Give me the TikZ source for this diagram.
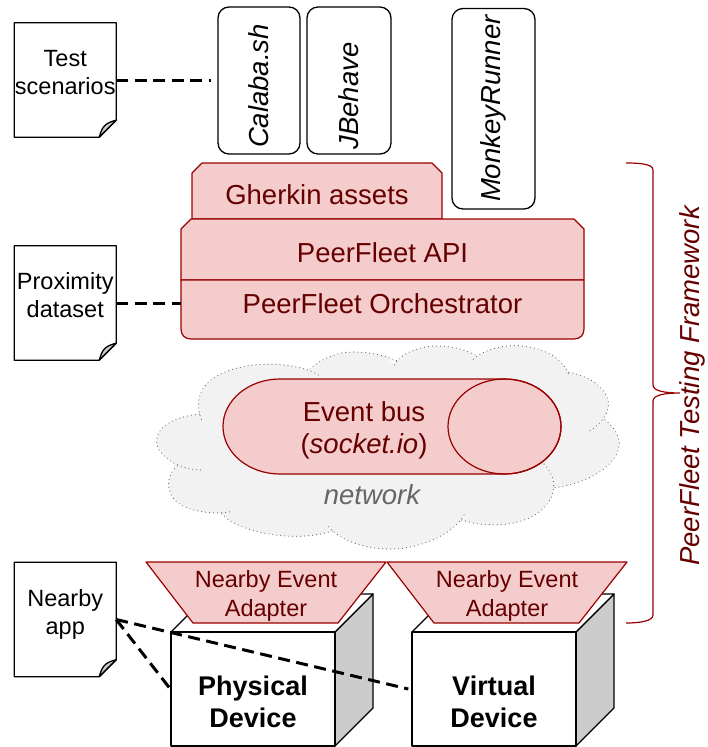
\documentclass[tikz,border=0pt]{standalone}
\usepackage{fontspec}
\setmainfont{Liberation Sans}
\definecolor{redfill}{HTML}{F4CCCC}
\definecolor{redline}{HTML}{990000}
\definecolor{redtext}{HTML}{660000}
\definecolor{cloudfill}{HTML}{F2F2F2}
\definecolor{cloudline}{HTML}{666666}
\definecolor{sidegray}{HTML}{CCCCCC}
\newcommand{\docshape}[1]{%
  \draw[boxline,fill=white] (#1.north west) -- (#1.north east) -- ([yshift=17pt]#1.south east)
     -- ([xshift=-17pt]#1.south east) -- (#1.south west) -- cycle;
  \draw[boxline,fill=sidegray] ([yshift=17pt]#1.south east) .. controls ([xshift=-12pt,yshift=14pt]#1.south east) and ([xshift=-14pt,yshift=10pt]#1.south east) .. ([xshift=-17pt]#1.south east) -- cycle;
}
\newcommand{\cloudlobes}{
  (535,105) .. controls (470,65) and (310,55) .. (220,115) .. controls (175,145) and (165,195) .. (185,240)
  (178,222) .. controls (110,230) and (50,255) .. (50,305) .. controls (52,350) and (120,392) .. (192,390)
  (112,378) .. controls (85,400) and (75,440) .. (100,475) .. controls (130,515) and (220,525) .. (272,515)
  (245,522) .. controls (300,580) and (470,610) .. (580,572)
  (565,560) .. controls (610,610) and (700,635) .. (790,625) .. controls (880,610) and (950,570) .. (975,520)
  (965,540) .. controls (1040,565) and (1150,560) .. (1205,510) .. controls (1240,480) and (1265,420) .. (1205,365)
  (1245,443) .. controls (1340,430) and (1435,380) .. (1438,310) .. controls (1438,280) and (1410,250) .. (1390,235)
  (1350,272) .. controls (1400,240) and (1415,200) .. (1400,170) .. controls (1380,125) and (1330,105) .. (1280,95)
  (1285,100) .. controls (1260,40) and (1180,15) .. (1120,17) .. controls (1070,18) and (1020,35) .. (992,65)
  (1005,45) .. controls (960,20) and (890,10) .. (840,25) .. controls (800,35) and (770,55) .. (760,82)
  (770,62) .. controls (720,40) and (650,30) .. (600,40) .. controls (560,50) and (525,70) .. (505,92)
}
\tikzset{
  boxline/.style={draw=black,line width=1.3pt,line join=round},
  redshape/.style={draw=redline,fill=redfill,line width=1.2pt,line join=round},
  bigfont/.style={font=\fontsize{27.5}{31.5}\selectfont},
  smallfont/.style={font=\fontsize{23.5}{28.5}\selectfont},
  docbox/.style={minimum width=101.5pt,minimum height=114pt,inner sep=0pt},
  doctext/.style={smallfont,align=center,inner sep=0pt,text=black},
  toolbox/.style={boxline,fill=white,rounded corners=11pt,rotate=90,inner sep=0pt,
    font=\fontsize{27.5}{31.5}\selectfont\itshape},
  redtextnode/.style={bigfont,text=redtext,align=center,inner sep=0pt},
  adaptertext/.style={smallfont,text=redtext,align=center,inner sep=0pt},
  cubefront/.style={boxline,fill=white,minimum width=164pt,minimum height=114pt,inner sep=0pt},
  cubetext/.style={font=\fontsize{27}{32}\selectfont\bfseries,align=center,inner sep=0pt},
  dashline/.style={draw=black,line width=3pt,dash pattern=on 12pt off 6.5pt},
}
\begin{document}
\begin{tikzpicture}[x=1pt,y=-1pt]
\useasboundingbox (0,0) rectangle (707,747);

% documents
\node[docbox] (test) at (65.25,80) {};
\docshape{test}
\node[doctext] (testlabel) at ([yshift=7.5pt]test.center) {Test\\scenarios};
\node[docbox] (prox) at (65.25,303) {};
\docshape{prox}
\node[doctext] (proxlabel) at ([yshift=8pt]prox.center) {Proximity\\dataset};
\node[docbox] (app) at (65.25,619.5) {};
\docshape{app}
\node[doctext] (applabel) at ([yshift=5pt]app.center) {Nearby\\app};

% tools
\node[toolbox,minimum width=147pt,minimum height=82pt] (calaba) at (259,80.5) {Calaba.sh\hspace*{11pt}};
\node[toolbox,minimum width=147pt,minimum height=84pt] (jbehave) at (349,80.5) {\raisebox{-2pt}{JBehave}\hspace*{31pt}};
\node[toolbox,minimum width=200.5pt,minimum height=83pt] (monkey) at (493.5,108.75) {\raisebox{-4pt}{MonkeyRunner}};

% Gherkin
\draw[redshape] (192,219) -- (192,173) -- (202,163) -- (432,163) -- (442,173) -- (442,219) -- cycle;
\node[redtextnode] (gherkin) at (317,195) {Gherkin assets};

% PeerFleet stack
\draw[redshape] (181,280) -- (181,229) -- (191,219) -- (574,219) -- (584,229) -- (584,280) -- cycle;
\draw[redshape] (181,280) -- (181,329) .. controls (181,335) and (185,339) .. (191,339) -- (574,339) .. controls (580,339) and (584,335) .. (584,329) -- (584,280) -- cycle;
\node[redtextnode] (api) at (382.5,253) {PeerFleet API};
\node[inner sep=0pt,minimum width=403pt,minimum height=59pt] (orch) at (382.5,309.5) {};
\node[redtextnode] (orchlabel) at (382.5,304) {PeerFleet Orchestrator};

% cloud
\begin{scope}[shift={(140,340)},x=0.33333pt,y=-0.33333pt]
  \fill[cloudfill] \cloudlobes;
  \fill[cloudfill] (170,230) -- (100,380) -- (150,460) -- (262,532) -- (555,570) -- (970,530) -- (1205,500) -- (1245,443) -- (1395,240) -- (1285,98) -- (1000,48) -- (880,45) -- (775,70) -- (640,55) -- (510,92) -- (530,100) -- cycle;
  \draw[cloudline,line width=1.1pt,line cap=round,dash pattern=on 0.1pt off 3.9pt] \cloudlobes;
\end{scope}

% event bus
\draw[redshape] (280,379) -- (504.5,379) arc[start angle=90,end angle=-90,x radius=56.5,y radius=-47.5] -- (280,474) arc[start angle=270,end angle=90,x radius=57,y radius=-47.5] -- cycle;
\draw[redline,line width=1.2pt] (504.5,426.5) ellipse[x radius=56.5,y radius=47.5];
\node[redtextnode] (bus) at (364,430.5) {Event bus\\(\textit{socket.io})};
\node[bigfont,text=cloudline,inner sep=0pt] (network) at (372,495) {\itshape network};

% devices
\fill[sidegray] (335,632) -- (373,594) -- (373,708) -- (335,746) -- cycle;
\draw[boxline] (335,632) -- (373,594) -- (373,708) -- (335,746) -- cycle;
\draw[boxline,fill=white] (171,632) -- (209,594) -- (373,594) -- (335,632) -- cycle;
\node[cubefront] (phys) at (253,689) {};
\node[cubetext] (physlabel) at (253,702) {Physical\\Device};

\fill[sidegray] (576,632) -- (614,594) -- (614,708) -- (576,746) -- cycle;
\draw[boxline] (576,632) -- (614,594) -- (614,708) -- (576,746) -- cycle;
\draw[boxline,fill=white] (412,632) -- (450,594) -- (614,594) -- (576,632) -- cycle;
\node[cubefront] (virt) at (494,689) {};
\node[cubetext] (virtlabel) at (494,702) {Virtual\\Device};

% adapters
\draw[redshape] (146,562) -- (386,562) -- (338,623) -- (193,623) -- cycle;
\node[adaptertext] (adapterA) at (266,596) {Nearby Event\\Adapter};
\draw[redshape] (387,562) -- (627,562) -- (579,623) -- (434,623) -- cycle;
\node[adaptertext] (adapterB) at (507,596) {Nearby Event\\Adapter};

% framework brace
\draw[redline,line width=1.2pt] (626,163) .. controls (640,163) and (653,164) .. (653,170) -- (653,385) .. controls (653,391) and (665,393) .. (680,393) .. controls (665,393) and (653,395) .. (653,401) -- (653,615) .. controls (653,621) and (640,623) .. (626,623);
\node[bigfont,text=redtext,rotate=90,inner sep=0pt] (framework) at (692,386) {\itshape PeerFleet Testing Framework};

% connectors
\draw[dashline] (test.east) -- ([xshift=-6pt]calaba.north |- test.east);
\draw[dashline] (prox.east) -- (prox.east -| orch.west);
\draw[dashline] (app.east) -- (phys.west);
\draw[dashline] (app.east) -- ([xshift=-3pt]virt.west);
\end{tikzpicture}
\end{document}
